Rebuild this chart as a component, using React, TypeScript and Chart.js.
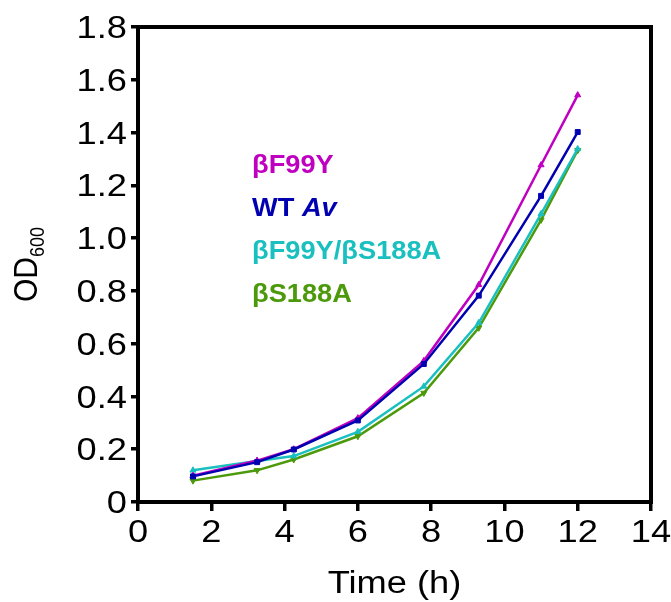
import React, { useEffect, useRef } from 'react';
import { Chart, registerables } from 'chart.js';

Chart.register(...registerables);

// ---- data ----
const timeH = [1.5, 3.25, 4.25, 6.0, 7.8, 9.3, 11.0, 12.0];
const bF99Y = [0.1, 0.157, 0.2, 0.318, 0.535, 0.823, 1.277, 1.542];
const wtAv = [0.097, 0.151, 0.199, 0.309, 0.523, 0.782, 1.16, 1.402];
const bF99YbS188A = [0.12, 0.155, 0.174, 0.266, 0.438, 0.679, 1.092, 1.338];
const bS188A = [0.081, 0.12, 0.161, 0.249, 0.413, 0.66, 1.069, 1.333];

const seriesNames = ['βF99Y', 'WT Av', 'βF99Y/βS188A', 'βS188A'];
const seriesColors = ['#C000C0', '#0000B0', '#1ABFBF', '#4C9A0C'];

const xTitle = 'Time (h)';
const yTitleMain = 'OD';
const yTitleSub = '600';

const FONT = '"Liberation Sans", Arial, Helvetica, sans-serif';

function yLabel(v: number) {
  return Math.abs(v) < 1e-9 ? '0' : v.toFixed(1);
}

const textPlugin = {
  id: 'customText',
  afterDraw(chart: any) {
    const { ctx, chartArea: ca, scales } = chart;
    ctx.save();
    // frame
    ctx.strokeStyle = '#000';
    ctx.lineWidth = 4;
    ctx.strokeRect(ca.left, ca.top, ca.right - ca.left, ca.bottom - ca.top);

    const sx = 1.17;
    const fs = 31;
    ctx.fillStyle = '#000';
    ctx.font = `${fs}px ${FONT}`;
    ctx.textBaseline = 'alphabetic';

    // y tick labels
    ctx.textAlign = 'right';
    scales.y.ticks.forEach((t: any, i: number) => {
      const py = scales.y.getPixelForTick(i);
      ctx.save();
      ctx.translate(ca.left - 11, py + fs * 0.358);
      ctx.scale(sx, 1);
      ctx.fillText(yLabel(t.value), 0, 0);
      ctx.restore();
    });

    // x tick labels
    ctx.textAlign = 'center';
    scales.x.ticks.forEach((t: any, i: number) => {
      const px = scales.x.getPixelForTick(i);
      ctx.save();
      ctx.translate(px, ca.bottom + 39.5);
      ctx.scale(sx, 1);
      ctx.fillText(String(t.value), 0, 0);
      ctx.restore();
    });

    // x title
    ctx.save();
    ctx.translate((ca.left + ca.right) / 2, 593);
    ctx.scale(sx, 1);
    ctx.textAlign = 'center';
    ctx.fillText(xTitle, 0, 0);
    ctx.restore();

    // y title with subscript
    ctx.save();
    const cy = (ca.top + ca.bottom) / 2;
    ctx.translate(37, cy);
    ctx.rotate(-Math.PI / 2);
    ctx.scale(1, 1.12);
    ctx.textAlign = 'left';
    ctx.font = `30px ${FONT}`;
    const wMain = ctx.measureText(yTitleMain).width;
    ctx.font = `18px ${FONT}`;
    const wSub = ctx.measureText(yTitleSub).width;
    const start = -(wMain + wSub) / 2;
    ctx.font = `30px ${FONT}`;
    ctx.fillText(yTitleMain, start, 0);
    ctx.font = `18px ${FONT}`;
    ctx.fillText(yTitleSub, start + wMain, 6);
    ctx.restore();

    // in-plot legend
    const lx = 252;
    const baselines = [173, 216, 259, 302];
    seriesNames.forEach((name, i) => {
      ctx.save();
      ctx.translate(lx, baselines[i]);
      ctx.scale(1.09, 1);
      ctx.fillStyle = seriesColors[i];
      ctx.textAlign = 'left';
      if (name === 'WT Av') {
        ctx.font = `bold 25px ${FONT}`;
        const a = 'WT ';
        ctx.fillText(a, 0, 0);
        const w = ctx.measureText(a).width;
        ctx.font = `italic bold 25px ${FONT}`;
        ctx.fillText('Av', w, 0);
      } else {
        ctx.font = `bold 25px ${FONT}`;
        ctx.fillText(name, 0, 0);
      }
      ctx.restore();
    });

    ctx.restore();
  },
};

export default function App() {
  const ref = useRef<HTMLCanvasElement | null>(null);

  useEffect(() => {
    document.body.style.margin = '0';
    const canvas = ref.current;
    if (!canvas) return;
    const seriesData = [bF99Y, wtAv, bF99YbS188A, bS188A];
    const styles = ['triangle', 'rect', 'triangle', 'triangle'];
    const rotations = [0, 0, 0, 180];
    const orders = [1, 0, 2, 3];
    const gridX = {
      drawOnChartArea: false,
      drawTicks: true,
      tickLength: 9,
      lineWidth: 3.5,
      color: '#000',
    };
    const gridY = {
      drawOnChartArea: false,
      drawTicks: true,
      tickLength: 7,
      lineWidth: 3.5,
      color: '#000',
    };
    const chart = new Chart(canvas, {
      type: 'line',
      data: {
        datasets: seriesData.map((vals, i) => ({
          label: seriesNames[i],
          data: vals.map((v, j) => ({ x: timeH[j], y: v })),
          borderColor: seriesColors[i],
          backgroundColor: seriesColors[i],
          pointBackgroundColor: seriesColors[i],
          pointBorderColor: seriesColors[i],
          pointStyle: styles[i] as any,
          rotation: rotations[i],
          pointRadius: 3.5,
          pointBorderWidth: 1,
          borderWidth: 2.5,
          tension: 0,
          fill: false,
          order: orders[i],
        })),
      },
      options: {
        animation: false,
        responsive: false,
        devicePixelRatio: 1,
        layout: { padding: { left: 0, right: 20, top: 27, bottom: 0 } },
        plugins: { legend: { display: false }, tooltip: { enabled: false } },
        scales: {
          x: {
            type: 'linear',
            min: 0,
            max: 14,
            ticks: { stepSize: 2, display: false },
            grid: gridX,
            border: { display: false },
            afterFit(s: any) {
              s.height = 100;
            },
          },
          y: {
            type: 'linear',
            min: 0,
            max: 1.8,
            ticks: { stepSize: 0.2, display: false },
            grid: gridY,
            border: { display: false },
            afterFit(s: any) {
              s.width = 138;
            },
          },
        },
      },
      plugins: [textPlugin],
    });
    return () => chart.destroy();
  }, []);

  return (
    <div style={{ width: 671, height: 602, background: '#fff' }}>
      <canvas ref={ref} width={671} height={602} />
    </div>
  );
}
